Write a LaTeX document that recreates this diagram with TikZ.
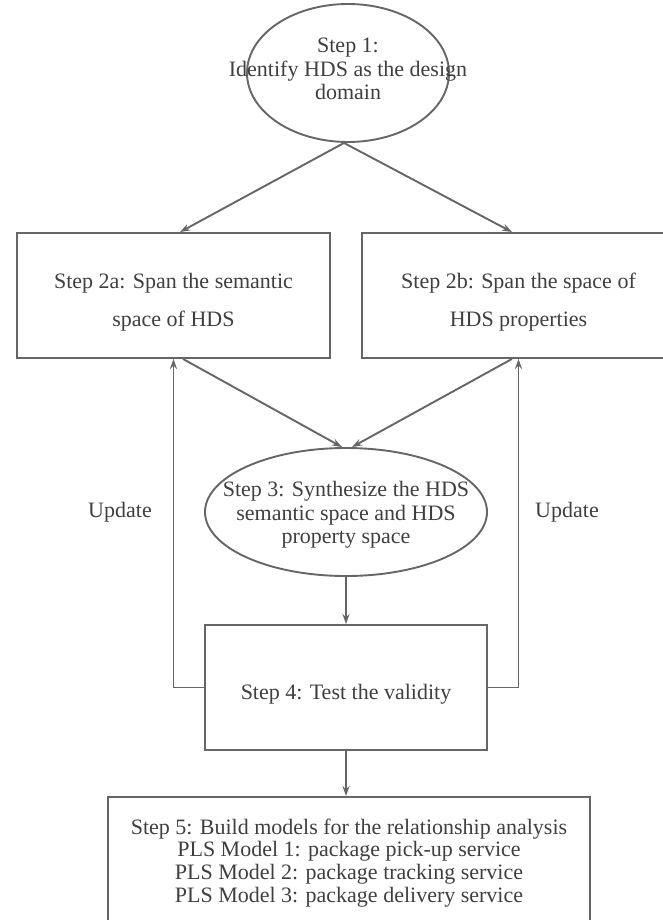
\documentclass[tikz,border=0pt]{standalone}
\usepackage{fontspec}
\setmainfont{Liberation Serif}
\usetikzlibrary{shapes.geometric,arrows.meta}
\definecolor{linegray}{HTML}{666666}
\definecolor{textgray}{HTML}{3F3F3F}
\begin{document}
\begin{tikzpicture}[x=1pt,y=-1pt,
  line/.style={draw=linegray, line width=1.9pt},
  arr/.style={line, -{Stealth[length=10pt,width=7pt]}},
  boxnode/.style={line, rectangle, inner sep=0pt},
  ovalnode/.style={line, ellipse, inner sep=0pt},
  steptext/.style={inner sep=0pt, align=center, text=textgray,
    font=\fontsize{22}{23.5}\selectfont},
  widetext/.style={steptext, font=\fontsize{22}{38}\selectfont},
  lbl/.style={inner sep=0pt, text=textgray, font=\fontsize{22}{24}\selectfont},
]
\useasboundingbox (0,0) rectangle (662,920);

% step shapes
\node[ovalnode, minimum width=202pt, minimum height=138pt] (e1) at (348,73) {};
\node[boxnode, minimum width=313pt, minimum height=125pt] (b2a) at (173.5,295.5) {};
\node[boxnode, minimum width=313pt, minimum height=125pt] (b2b) at (518.5,295.5) {};
\node[ovalnode, minimum width=282pt, minimum height=128pt] (e3) at (346,512) {};
\node[boxnode, minimum width=282pt, minimum height=125pt] (b4) at (346,687.5) {};
\node[boxnode, minimum width=482pt, minimum height=129pt] (b5) at (349,861.5) {};

% step texts
\node[steptext] (e1t) at (348,69) {Step 1:\\Identify HDS as the design\\domain};
\node[widetext] (b2at) at (173.5,302) {Step 2a: Span the semantic\\space of HDS};
\node[widetext] (b2bt) at (518.5,302) {Step 2b: Span the space of\\HDS properties};
\node[steptext] (e3t) at (346,515) {Step 3: Synthesize the HDS\\semantic space and HDS\\property space};
\node[steptext] (b4t) at (346,694) {Step 4: Test the validity};
\node[steptext, font=\fontsize{22}{22.8}\selectfont] (b5t) at (349,863)
  {Step 5: Build models for the relationship analysis\\
   PLS Model 1: package pick-up service\\
   PLS Model 2: package tracking service\\
   PLS Model 3: package delivery service};

% forward flow
\draw[arr] ([xshift=-4pt]e1.south) -- ([xshift=6.5pt]b2a.north);
\draw[arr] ([xshift=-4pt]e1.south) -- ([xshift=-6.5pt]b2b.north);
\draw[arr] ([xshift=9.5pt]b2a.south) -- ([xshift=-4pt]e3.north);
\draw[arr] ([xshift=-6.5pt]b2b.south) -- ([xshift=6pt]e3.north);
\draw[arr] (e3.south) -- (b4.north);
\draw[arr] (b4.south) -- (b4.south |- b5.north);

% feedback loops
\draw[arr] (b4.west) -| (b2a.south);
\draw[arr] (b4.east) -| (b2b.south);
\node[lbl] (upl) at (120,512) {Update};
\node[lbl] (upr) at (567,512) {Update};
\end{tikzpicture}
\end{document}
